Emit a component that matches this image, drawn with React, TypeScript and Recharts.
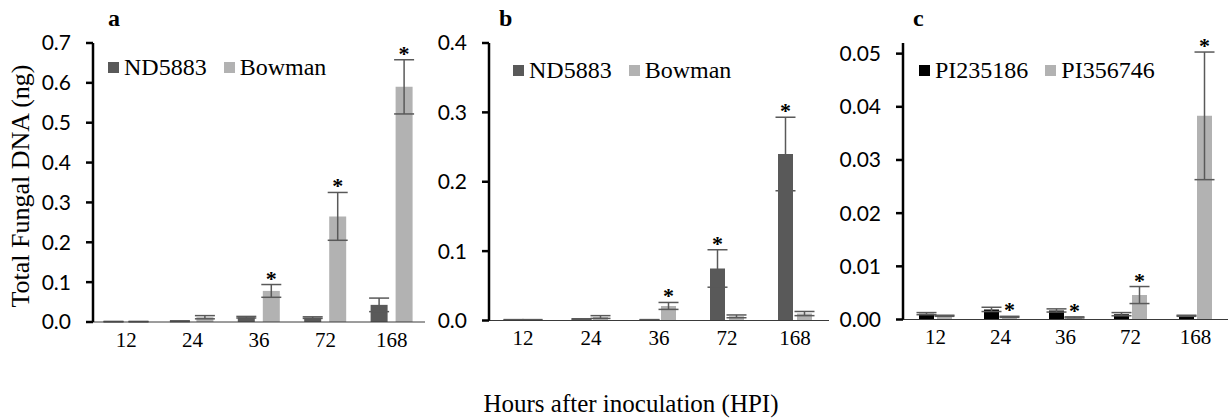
import { BarChart, Bar, XAxis, YAxis, ErrorBar, LabelList, Legend } from "recharts";

// hours after inoculation
const hpi = ["12", "24", "36", "72", "168"];

// panel a
const ndA = [0.001, 0.002, 0.012, 0.011, 0.043];
const ndAErr = [0.0005, 0.001, 0.002, 0.002, 0.017];
const bowA = [0.001, 0.012, 0.078, 0.265, 0.59];
const bowAErr = [0.0005, 0.004, 0.016, 0.06, 0.068];
const bowASig = [false, false, true, true, true];

// panel b
const ndB = [0.001, 0.002, 0.001, 0.075, 0.24];
const ndBErr = [0.0003, 0.0005, 0.0003, 0.027, 0.053];
const ndBSig = [false, false, false, true, true];
const bowB = [0.001, 0.005, 0.021, 0.006, 0.01];
const bowBErr = [0.0003, 0.002, 0.005, 0.002, 0.003];
const bowBSig = [false, false, true, false, false];

// panel c
const piA = [0.0011, 0.0019, 0.0017, 0.001, 0.0007];
const piAErr = [0.0002, 0.0004, 0.0003, 0.0003, 0.0001];
const piB = [0.0007, 0.0005, 0.0004, 0.0046, 0.0383];
const piBErr = [0.0001, 0.0001, 0.0001, 0.0016, 0.012];
const piBSig = [false, true, true, true, true];

const ticksA = [0, 0.1, 0.2, 0.3, 0.4, 0.5, 0.6, 0.7];
const ticksB = [0, 0.1, 0.2, 0.3, 0.4];
const ticksC = [0, 0.01, 0.02, 0.03, 0.04, 0.05];

const DARK = "#595959";
const LIGHT = "#b2b2b2";
const SERIF = "'Liberation Serif', 'Times New Roman', serif";
const SANS = "Lato, 'Open Sans', sans-serif";

const rows = (s1: number[], e1: number[], s2: number[], e2: number[]) =>
  hpi.map((h, i) => ({ hpi: h, s1: s1[i], e1: e1[i], s2: s2[i], e2: e2[i] }));

const dataA = rows(ndA, ndAErr, bowA, bowAErr);
const dataB = rows(ndB, ndBErr, bowB, bowBErr);
const dataC = rows(piA, piAErr, piB, piBErr);

function star(vals: number[], errs: number[], sig: boolean[]) {
  return (p: any) => {
    const i = p.index;
    if (i == null || !sig[i]) return null;
    const k = vals[i] > 0 ? p.height / vals[i] : 0;
    const top = p.y - errs[i] * k;
    return (
      <text
        key={`star-${i}`}
        x={p.x + p.width / 2}
        y={top + 1}
        textAnchor="middle"
        fontFamily={SERIF}
        fontWeight="bold"
        fontSize={22}
        fill="#000"
      >
        *
      </text>
    );
  };
}

function legendContent(items: { name: string; color: string }[]) {
  return () => (
    <div style={{ display: "flex", alignItems: "center", fontFamily: SERIF, fontSize: 24, lineHeight: "24px", color: "#000", whiteSpace: "nowrap" }}>
      {items.map((it) => (
        <span key={it.name} style={{ display: "flex", alignItems: "center", marginRight: 17 }}>
          <span style={{ width: 11, height: 11, background: it.color, marginRight: 5 }} />
          {it.name}
        </span>
      ))}
    </div>
  );
}

type PanelProps = {
  data: any[];
  left: number;
  width: number;
  yWidth: number;
  right: number;
  xHeight: number;
  domain: [number, number];
  ticks: number[];
  digits: number;
  barSize: number;
  barGap: number;
  c1: string;
  c2: string;
  names: [string, string];
  star1?: any;
  star2?: any;
  legendLeft: number;
  legendTop: number;
  letter: string;
  letterLeft: number;
  yTitle?: boolean;
};

function Panel(p: PanelProps) {
  return (
    <div style={{ position: "absolute", left: p.left, top: 0 }}>
      <BarChart
        width={p.width}
        height={360}
        data={p.data}
        margin={{ top: 43, right: p.right, left: 0, bottom: 0 }}
        barGap={p.barGap}
      >
        <XAxis
          dataKey="hpi"
          axisLine={{ stroke: "#3a3a3a", strokeWidth: 1 }}
          tickLine={false}
          tickSize={0}
          tickMargin={10}
          height={p.xHeight}
          interval={0}
          tick={{ fontFamily: SERIF, fontSize: 21, fill: "#000" }}
        />
        <YAxis
          width={p.yWidth}
          domain={p.domain}
          ticks={p.ticks}
          interval={0}
          allowDataOverflow
          tickFormatter={(v: number) => v.toFixed(p.digits)}
          axisLine={{ stroke: "#000", strokeWidth: 2.5 }}
          tickLine={{ stroke: "#000", strokeWidth: 2.5 }}
          tickSize={7}
          tickMargin={15}
          tick={{ fontFamily: SANS, fontSize: 21, fill: "#000" }}
          label={
            p.yTitle
              ? {
                  content: () => (
                    <text
                      x={29}
                      y={186}
                      transform="rotate(-90, 29, 186)"
                      textAnchor="middle"
                      fontFamily={SERIF}
                      fontSize={26}
                      fill="#000"
                    >
                      Total Fungal DNA (ng)
                    </text>
                  ),
                }
              : undefined
          }
        />
        <Legend
          layout="horizontal"
          verticalAlign="middle"
          align="center"
          wrapperStyle={{ left: p.legendLeft, top: p.legendTop, width: "auto" }}
          content={legendContent([
            { name: p.names[0], color: p.c1 },
            { name: p.names[1], color: p.c2 },
          ])}
        />
        <Bar dataKey="s1" name={p.names[0]} fill={p.c1} barSize={p.barSize} isAnimationActive={false}>
          <ErrorBar dataKey="e1" width={10} stroke={DARK} strokeWidth={1.5} isAnimationActive={false} />
          {p.star1 && <LabelList dataKey="s1" content={p.star1} />}
        </Bar>
        <Bar dataKey="s2" name={p.names[1]} fill={p.c2} barSize={p.barSize} isAnimationActive={false}>
          <ErrorBar dataKey="e2" width={10} stroke={DARK} strokeWidth={1.5} isAnimationActive={false} />
          {p.star2 && <LabelList dataKey="s2" content={p.star2} />}
        </Bar>
      </BarChart>
      <div
        style={{
          position: "absolute",
          left: p.letterLeft,
          top: 6,
          fontFamily: SERIF,
          fontWeight: "bold",
          fontSize: 24,
          lineHeight: "24px",
        }}
      >
        {p.letter}
      </div>
    </div>
  );
}

export default function App() {
  return (
    <div style={{ position: "absolute", left: 0, top: 0, width: 1231, height: 418, background: "#fff", overflow: "hidden" }}>
      <Panel
        data={dataA}
        left={0}
        width={430}
        yWidth={93}
        right={5}
        xHeight={38}
        domain={[0, 0.7]}
        ticks={ticksA}
        digits={1}
        barSize={17}
        barGap={8}
        c1={DARK}
        c2={LIGHT}
        names={["ND5883", "Bowman"]}
        star2={star(bowA, bowAErr, bowASig)}
        legendLeft={108}
        legendTop={55}
        letter="a"
        letterLeft={108}
        yTitle
      />
      <Panel
        data={dataB}
        left={400}
        width={430}
        yWidth={89}
        right={1}
        xHeight={39.5}
        domain={[0, 0.4]}
        ticks={ticksB}
        digits={1}
        barSize={15}
        barGap={4}
        c1={DARK}
        c2={LIGHT}
        names={["ND5883", "Bowman"]}
        star1={star(ndB, ndBErr, ndBSig)}
        star2={star(bowB, bowBErr, bowBSig)}
        legendLeft={113}
        legendTop={58}
        letter="b"
        letterLeft={99}
      />
      <Panel
        data={dataC}
        left={810}
        width={421}
        yWidth={93}
        right={3}
        xHeight={40.5}
        domain={[0, 0.052]}
        ticks={ticksC}
        digits={2}
        barSize={15}
        barGap={3}
        c1="#000000"
        c2={LIGHT}
        names={["PI235186", "PI356746"]}
        star2={star(piB, piBErr, piBSig)}
        legendLeft={109}
        legendTop={58}
        letter="c"
        letterLeft={103}
      />
      <div
        style={{
          position: "absolute",
          left: 0,
          width: 1262,
          top: 391,
          textAlign: "center",
          fontFamily: SERIF,
          fontSize: 25,
          lineHeight: "25px",
        }}
      >
        Hours after inoculation (HPI)
      </div>
    </div>
  );
}
